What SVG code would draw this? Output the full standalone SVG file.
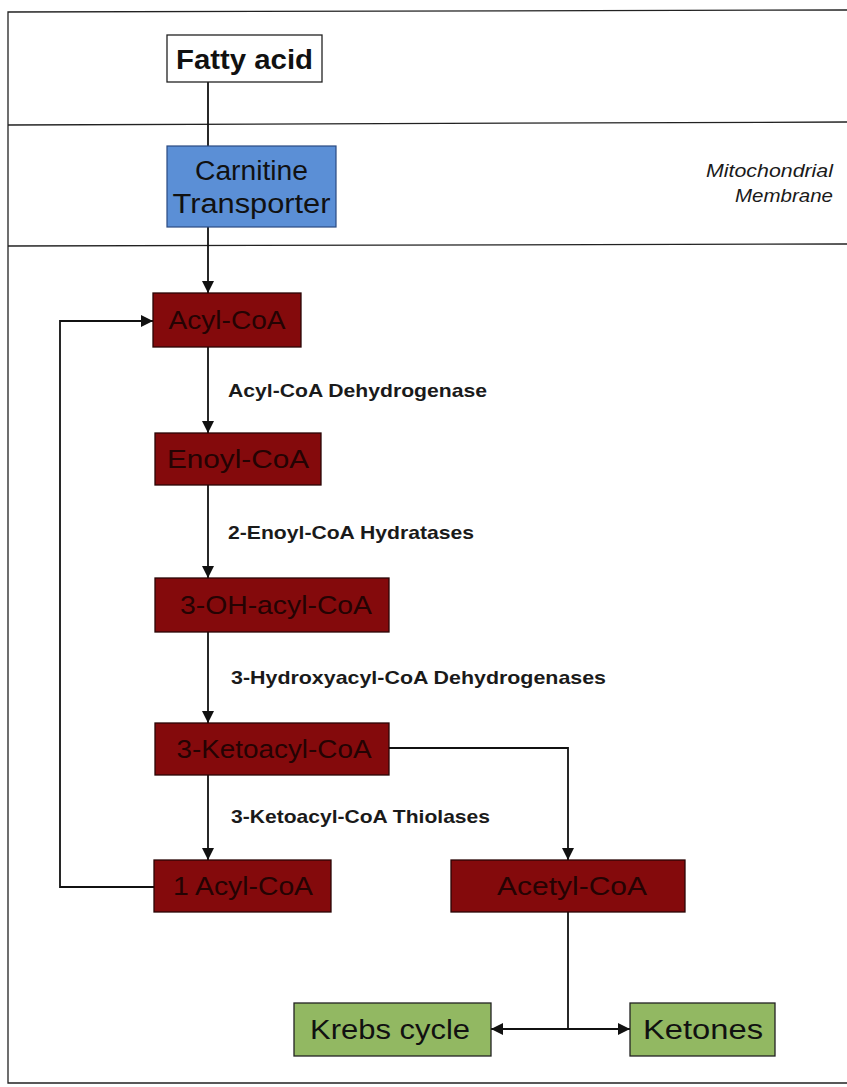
<svg xmlns="http://www.w3.org/2000/svg" width="847" height="1087" viewBox="0 0 847 1087">
  <defs>
    <marker id="arrow" viewBox="0 0 10 10" refX="10" refY="5" markerWidth="12" markerHeight="12" markerUnits="userSpaceOnUse" orient="auto-start-reverse">
      <path d="M0,0 L10,5 L0,10 z" fill="#111"/>
    </marker>
    <style>
      .frame { fill: none; stroke: #222; stroke-width: 1.3; }
      .conn { fill: none; stroke: #111; stroke-width: 1.8; }
      .red { fill: #840a0c; stroke: #2a0505; stroke-width: 1.3; }
      .red-t { font-family: "Liberation Sans", Arial, sans-serif; font-size: 26px; fill: #240303; text-anchor: middle; }
      .green { fill: #92b862; stroke: #222; stroke-width: 1.3; }
      .blue { fill: #5b8fd6; stroke: #2a4a80; stroke-width: 1.2; }
      .big { font-family: "Liberation Sans", Arial, sans-serif; font-size: 27px; fill: #111; text-anchor: middle; }
      .enz { font-family: "Liberation Sans", Arial, sans-serif; font-size: 19px; font-weight: bold; fill: #1a1a1a; }
      .note { font-family: "Liberation Sans", Arial, sans-serif; font-size: 18px; font-style: italic; fill: #1a1a1a; text-anchor: end; }
    </style>
  </defs>

  <rect x="0" y="0" width="847" height="1087" fill="#ffffff"/>

  <!-- compartments: cytosol, membrane, matrix -->
  <g id="compartments">
    <path class="frame" d="M847,10 L8,12 L8,1083 L847,1083"/>
    <line class="frame" x1="8" y1="125" x2="847" y2="122"/>
    <line class="frame" x1="8" y1="246" x2="847" y2="244"/>
    <text class="note" x="833" y="177" textLength="127" lengthAdjust="spacingAndGlyphs">Mitochondrial</text>
    <text class="note" x="833" y="202" textLength="98" lengthAdjust="spacingAndGlyphs">Membrane</text>
  </g>

  <!-- connectors and enzyme labels -->
  <g id="connectors">
    <line class="conn" x1="208" y1="82" x2="208" y2="146"/>
    <line class="conn" x1="208" y1="227" x2="208" y2="293" marker-end="url(#arrow)"/>
    <line class="conn" x1="208" y1="347" x2="208" y2="433" marker-end="url(#arrow)"/>
    <line class="conn" x1="208" y1="485" x2="208" y2="578" marker-end="url(#arrow)"/>
    <line class="conn" x1="208" y1="632" x2="208" y2="723" marker-end="url(#arrow)"/>
    <line class="conn" x1="208" y1="775" x2="208" y2="860" marker-end="url(#arrow)"/>
    <polyline class="conn" points="389,748 568,748 568,860" marker-end="url(#arrow)"/>
    <polyline class="conn" points="154,887 60,887 60,321 153,321" marker-end="url(#arrow)"/>
    <line class="conn" x1="568" y1="912" x2="568" y2="1029"/>
    <line class="conn" x1="491" y1="1029" x2="630" y2="1029" marker-start="url(#arrow)" marker-end="url(#arrow)"/>
    <text class="enz" x="228" y="397" textLength="259" lengthAdjust="spacingAndGlyphs">Acyl-CoA Dehydrogenase</text>
    <text class="enz" x="228" y="539" textLength="246" lengthAdjust="spacingAndGlyphs">2-Enoyl-CoA Hydratases</text>
    <text class="enz" x="231" y="684" textLength="375" lengthAdjust="spacingAndGlyphs">3-Hydroxyacyl-CoA Dehydrogenases</text>
    <text class="enz" x="231" y="823" textLength="259" lengthAdjust="spacingAndGlyphs">3-Ketoacyl-CoA Thiolases</text>
  </g>

  <g id="fatty-acid">
    <rect x="167" y="35" width="155" height="47" fill="#ffffff" stroke="#222" stroke-width="1.3"/>
    <text class="big" x="244.5" y="69" font-weight="bold" textLength="137" lengthAdjust="spacingAndGlyphs">Fatty acid</text>
  </g>

  <g id="carnitine-transporter">
    <rect class="blue" x="167" y="146" width="169" height="81"/>
    <text class="big" x="251.5" y="180" fill="#1a2233" textLength="113" lengthAdjust="spacingAndGlyphs">Carnitine</text>
    <text class="big" x="251.5" y="213" fill="#1a2233" textLength="158" lengthAdjust="spacingAndGlyphs">Transporter</text>
  </g>

  <g id="acyl-coa">
    <rect class="red" x="153" y="293" width="148" height="54"/>
    <text class="red-t" x="227" y="329" textLength="117" lengthAdjust="spacingAndGlyphs">Acyl-CoA</text>
  </g>

  <g id="enoyl-coa">
    <rect class="red" x="155" y="433" width="166" height="52"/>
    <text class="red-t" x="238" y="468" textLength="142" lengthAdjust="spacingAndGlyphs">Enoyl-CoA</text>
  </g>

  <g id="hydroxyacyl-coa">
    <rect class="red" x="155" y="578" width="234" height="54"/>
    <text class="red-t" x="276" y="614" textLength="192" lengthAdjust="spacingAndGlyphs">3-OH-acyl-CoA</text>
  </g>

  <g id="ketoacyl-coa">
    <rect class="red" x="155" y="723" width="234" height="52"/>
    <text class="red-t" x="274" y="758" textLength="195" lengthAdjust="spacingAndGlyphs">3-Ketoacyl-CoA</text>
  </g>

  <g id="acyl-coa-shortened">
    <rect class="red" x="154" y="860" width="177" height="52"/>
    <text class="red-t" x="243" y="895" textLength="140" lengthAdjust="spacingAndGlyphs">1 Acyl-CoA</text>
  </g>

  <g id="acetyl-coa">
    <rect class="red" x="451" y="860" width="234" height="52"/>
    <text class="red-t" x="572" y="895" textLength="150" lengthAdjust="spacingAndGlyphs">Acetyl-CoA</text>
  </g>

  <g id="krebs-cycle">
    <rect class="green" x="294" y="1003" width="197" height="53"/>
    <text class="big" x="390" y="1039" textLength="160" lengthAdjust="spacingAndGlyphs">Krebs cycle</text>
  </g>

  <g id="ketones">
    <rect class="green" x="630" y="1003" width="145" height="53"/>
    <text class="big" x="703" y="1039" textLength="120" lengthAdjust="spacingAndGlyphs">Ketones</text>
  </g>
</svg>
